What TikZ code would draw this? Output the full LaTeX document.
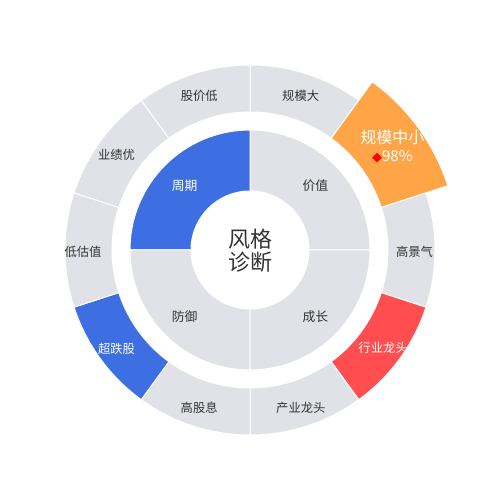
\documentclass[tikz,border=0pt]{standalone}
\usepackage{fontspec}
\usetikzlibrary{calc}
\setmainfont{Noto Sans CJK SC}
\newfontfamily\dejavu{DejaVu Sans}
\definecolor{segGray}{HTML}{E1E2E8}
\definecolor{segBlue}{HTML}{3D6FE2}
\definecolor{segOrange}{HTML}{FFA548}
\definecolor{segRed}{HTML}{FF4D50}
\definecolor{txtDark}{HTML}{333333}
\newcommand\ringseg[5]{\fill[#5, draw=white, line width=1pt] (#1:#3) arc[start angle=#1, end angle=#2, radius=#3] -- (#2:#4) arc[start angle=#2, end angle=#1, radius=#4] -- cycle;}
\tikzset{
  outlbl/.style={font=\fontsize{12.3}{14}\selectfont, text=txtDark, inner sep=0pt, yshift=-1.5pt},
  inlbl/.style={font=\fontsize{12.8}{14}\selectfont, text=txtDark, inner sep=0pt, yshift=-1.5pt},
  wlbl/.style={text=white}
}
\begin{document}
\begin{tikzpicture}[x=1pt,y=1pt]
\useasboundingbox (0,0) rectangle (500,500);
\begin{scope}[shift={(250,250)}]
% inner ring
\ringseg{0}{90}{59}{120}{segGray}
\ringseg{90}{180}{59}{120}{segBlue}
\ringseg{180}{270}{59}{120}{segGray}
\ringseg{270}{360}{59}{120}{segGray}
% outer ring
\ringseg{54}{90}{138}{185}{segGray}
\ringseg{-18}{18}{138}{185}{segGray}
\ringseg{-54}{-18}{138}{185}{segRed}
\ringseg{-90}{-54}{138}{185}{segGray}
\ringseg{-126}{-90}{138}{185}{segGray}
\ringseg{-162}{-126}{138}{185}{segBlue}
\ringseg{162}{198}{138}{185}{segGray}
\ringseg{126}{162}{138}{185}{segGray}
\ringseg{90}{126}{138}{185}{segGray}
\ringseg{18}{54}{138}{208}{segOrange}
% center
\node[font=\fontsize{22}{23}\selectfont, text=txtDark, align=center, inner sep=0pt, yshift=-1pt] (center) at (0,0) {风格\\诊断};
% inner labels
\node[inlbl] (jiazhi) at (45:92.5) {价值};
\node[inlbl, wlbl] (zhouqi) at (135:92.5) {周期};
\node[inlbl] (fangyu) at (225:92.5) {防御};
\node[inlbl] (chengzhang) at (315:92.5) {成长};
% outer labels
\node[outlbl] (gmd) at (72:164) {规模大};
\node[outlbl] (gjq) at (0:164.5) {高景气};
\node[outlbl, wlbl] (hyltou) at (-36:164.5) {行业龙头};
\node[outlbl] (cyltou) at (-72:164.5) {产业龙头};
\node[outlbl] (ggx) at (-108:164.5) {高股息};
\node[outlbl, wlbl] (cdg) at (-144:165) {超跌股};
\node[outlbl] (dgz) at (180:167) {低估值};
\node[outlbl] (yjy) at (144:165) {业绩优};
\node[outlbl] (gjd) at (108:164) {股价低};
\node[font=\fontsize{16}{18}\selectfont, text=white, inner sep=0pt] (gmzx) at ($(36:176)+(0,9)$) {规模中小};
\node[font=\fontsize{15}{17}\selectfont, text=white, inner sep=0pt] (pct) at ($(36:176)+(0,-10)$) {{\dejavu\fontsize{13}{14}\selectfont\textcolor{red}{◆}}98\%};
\end{scope}
\end{tikzpicture}
\end{document}
